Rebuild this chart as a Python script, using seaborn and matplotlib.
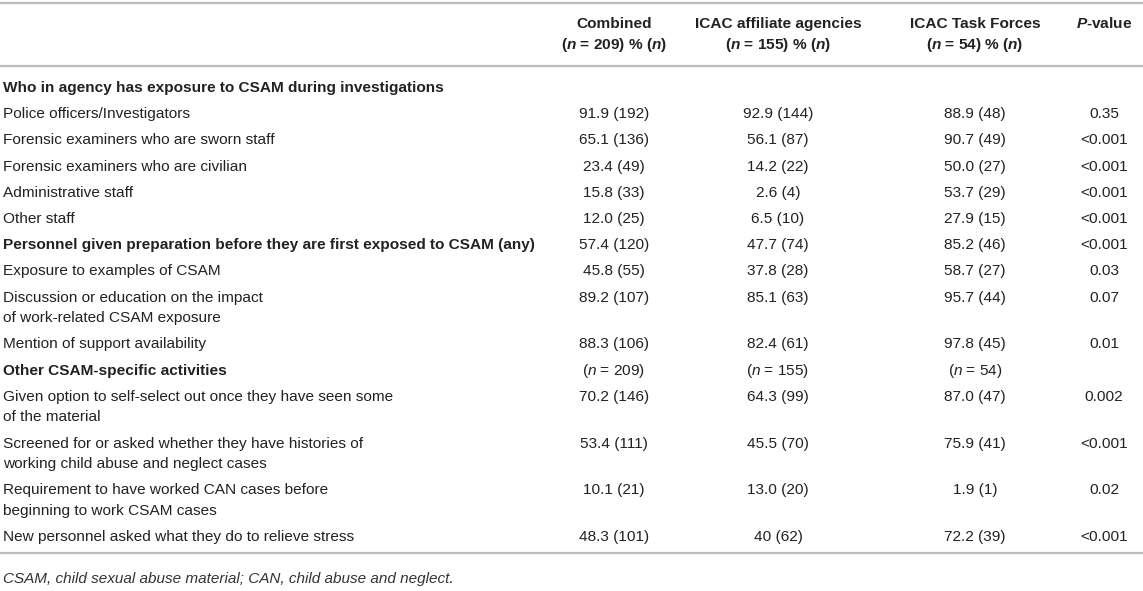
import matplotlib
matplotlib.use("Agg")
import matplotlib.pyplot as plt
import seaborn as sns

# table content
row_labels = [
    "Who in agency has exposure to CSAM during investigations",
    "Police officers/Investigators",
    "Forensic examiners who are sworn staff",
    "Forensic examiners who are civilian",
    "Administrative staff",
    "Other staff",
    "Personnel given preparation before they are first exposed to CSAM (any)",
    "Exposure to examples of CSAM",
    "Discussion or education on the impact\nof work-related CSAM exposure",
    "Mention of support availability",
    "Other CSAM-specific activities",
    "Given option to self-select out once they have seen some\nof the material",
    "Screened for or asked whether they have histories of\nworking child abuse and neglect cases",
    "Requirement to have worked CAN cases before\nbeginning to work CSAM cases",
    "New personnel asked what they do to relieve stress",
]
bold_rows = [0, 6, 10]

combined = ["", "91.9 (192)", "65.1 (136)", "23.4 (49)", "15.8 (33)", "12.0 (25)",
            "57.4 (120)", "45.8 (55)", "89.2 (107)", "88.3 (106)", "($n$ = 209)",
            "70.2 (146)", "53.4 (111)", "10.1 (21)", "48.3 (101)"]
affiliate = ["", "92.9 (144)", "56.1 (87)", "14.2 (22)", "2.6 (4)", "6.5 (10)",
             "47.7 (74)", "37.8 (28)", "85.1 (63)", "82.4 (61)", "($n$ = 155)",
             "64.3 (99)", "45.5 (70)", "13.0 (20)", "40 (62)"]
task_forces = ["", "88.9 (48)", "90.7 (49)", "50.0 (27)", "53.7 (29)", "27.9 (15)",
               "85.2 (46)", "58.7 (27)", "95.7 (44)", "97.8 (45)", "($n$ = 54)",
               "87.0 (47)", "75.9 (41)", "1.9 (1)", "72.2 (39)"]
p_values = ["", "0.35", "<0.001", "<0.001", "<0.001", "<0.001",
            "<0.001", "0.03", "0.07", "0.01", "",
            "0.002", "<0.001", "0.02", "<0.001"]

col_headers = [
    "Combined\n($\\mathbfit{n}$ = 209) % ($\\mathbfit{n}$)",
    "ICAC affiliate agencies\n($\\mathbfit{n}$ = 155) % ($\\mathbfit{n}$)",
    "ICAC Task Forces\n($\\mathbfit{n}$ = 54) % ($\\mathbfit{n}$)",
    "$\\mathbfit{P}$-value",
]
footnote = "CSAM, child sexual abuse material; CAN, child abuse and neglect."

sns.set_theme(style="white")
plt.rcParams["font.family"] = ["Liberation Sans", "DejaVu Sans"]
plt.rcParams["mathtext.fontset"] = "custom"
plt.rcParams["mathtext.rm"] = "Liberation Sans"
plt.rcParams["mathtext.it"] = "Liberation Sans:italic"
plt.rcParams["mathtext.bf"] = "Liberation Sans:bold"
plt.rcParams["mathtext.bfit"] = "Liberation Sans:italic:bold"

W, H = 1143, 591
fig = plt.figure(figsize=(W / 100, H / 100), dpi=100)
ax = fig.add_axes([0, 0, 1, 1])
ax.set_xlim(0, W)
ax.set_ylim(H, 0)
ax.axis("off")

fs = 11.1
txt = "#222222"
line_col = "#bdbdbd"
col_x = [614, 778, 975, 1104]

# rules
ax.hlines([3, 66, 553], 0, W, colors=line_col, linewidth=1.6)

# header
for x, h in zip(col_x[:3], col_headers[:3]):
    top, bottom = h.split("\n")
    ax.text(x, 24, top, ha="center", va="center", fontsize=fs, fontweight="bold", color=txt)
    ax.text(x, 45, bottom, ha="center", va="center", fontsize=fs, fontweight="bold", color=txt)
ax.text(col_x[3], 24, col_headers[3], ha="center", va="center", fontsize=fs,
        fontweight="bold", color=txt)

# body
y = 88
step, extra = 26.2, 20.6
for i, label in enumerate(row_labels):
    lines = label.split("\n")
    weight = "bold" if i in bold_rows else "normal"
    for k, ln in enumerate(lines):
        ax.text(3, y + k * extra, ln, ha="left", va="center", fontsize=fs,
                fontweight=weight, color=txt)
    for x, vals in zip(col_x, [combined, affiliate, task_forces, p_values]):
        if vals[i]:
            ax.text(x, y, vals[i], ha="center", va="center", fontsize=fs, color=txt)
    y += step + extra * (len(lines) - 1)

ax.text(3, 579, footnote, ha="left", va="center", fontsize=fs * 0.99,
        style="italic", color="#333333")

fig.savefig("out.png", dpi=100)
